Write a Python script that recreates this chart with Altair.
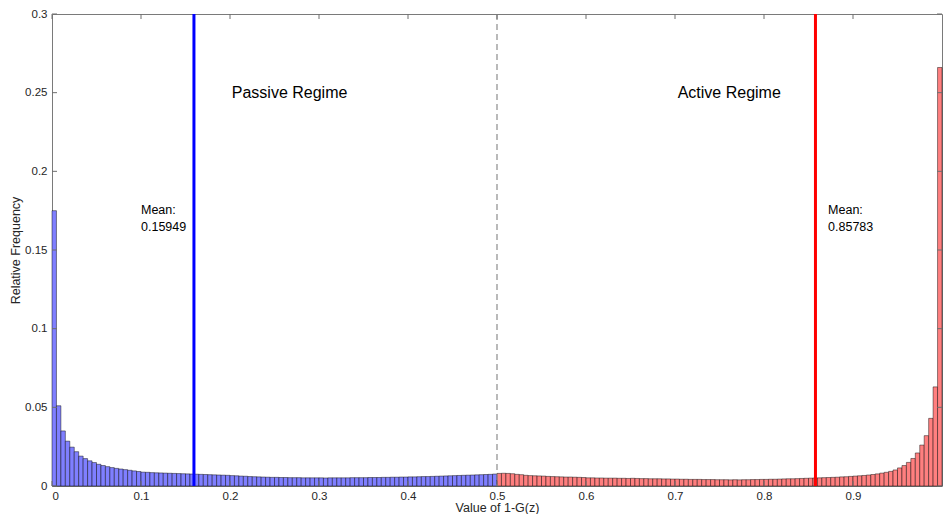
import altair as alt
import pandas as pd

BIN_WIDTH = 0.005

passive_freq = [
    0.175, 0.051, 0.035, 0.0285, 0.0247, 0.0218, 0.019, 0.0174, 0.016, 0.0149,
    0.0138, 0.013, 0.0123, 0.0117, 0.0112, 0.0108, 0.0104, 0.0100, 0.0096, 0.0092,
    0.0088, 0.0087, 0.0085, 0.0084, 0.0083, 0.0082, 0.0081, 0.0080, 0.0079, 0.0078,
    0.0077, 0.0076, 0.0075, 0.0074, 0.0073, 0.0072, 0.0071, 0.0070, 0.0069, 0.0068,
    0.0066, 0.0065, 0.0063, 0.0062, 0.0060, 0.0059, 0.0058, 0.0057, 0.0056, 0.0055,
    0.0055, 0.0054, 0.0054, 0.0053, 0.0053, 0.0053, 0.0052, 0.0052, 0.0052, 0.0052,
    0.0052, 0.0051, 0.0052, 0.0052, 0.0052, 0.0052, 0.0052, 0.0053, 0.0053, 0.0053,
    0.0053, 0.0054, 0.0054, 0.0054, 0.0055, 0.0055, 0.0056, 0.0056, 0.0057, 0.0057,
    0.0058, 0.0058, 0.0059, 0.0060, 0.0060, 0.0061, 0.0062, 0.0063, 0.0064, 0.0065,
    0.0066, 0.0067, 0.0068, 0.0069, 0.0070, 0.0071, 0.0072, 0.0073, 0.0074, 0.0076,
]

active_freq = [
    0.0080, 0.0081, 0.0080, 0.0078, 0.0074, 0.0072, 0.0068, 0.0066, 0.0065, 0.0064,
    0.0063, 0.0061, 0.0060, 0.0059, 0.0058, 0.0057, 0.0057, 0.0056, 0.0055, 0.0054,
    0.0052, 0.0052, 0.0051, 0.0051, 0.0050, 0.0050, 0.0050, 0.0049, 0.0049, 0.0048,
    0.0049, 0.0048, 0.0047, 0.0047, 0.0046, 0.0046, 0.0046, 0.0045, 0.0045, 0.0044,
    0.0044, 0.0043, 0.0043, 0.0042, 0.0042, 0.0042, 0.0041, 0.0041, 0.0041, 0.0040,
    0.0040, 0.0040, 0.0039, 0.0040, 0.0039, 0.0040, 0.0040, 0.0041, 0.0041, 0.0042,
    0.0042, 0.0043, 0.0043, 0.0044, 0.0045, 0.0046, 0.0046, 0.0047, 0.0048, 0.0049,
    0.0050, 0.0051, 0.0052, 0.0053, 0.0054, 0.0055, 0.0056, 0.0058, 0.0059, 0.0061,
    0.0063, 0.0065, 0.0067, 0.0070, 0.0073, 0.0077, 0.0082, 0.0087, 0.0093, 0.0102,
    0.0115, 0.0130, 0.0150, 0.0175, 0.0210, 0.0260, 0.0320, 0.0430, 0.0630, 0.2660,
]

passive_mean = 0.15949
active_mean = 0.85783
threshold = 0.5

x_ticks = [0, 0.1, 0.2, 0.3, 0.4, 0.5, 0.6, 0.7, 0.8, 0.9]
y_ticks = [0, 0.05, 0.1, 0.15, 0.2, 0.25, 0.3]

W, H = 890, 472
FONT = "Liberation Sans"

rows = []
for i, v in enumerate(passive_freq):
    rows.append({"x0": i * BIN_WIDTH, "x1": (i + 1) * BIN_WIDTH, "f": v, "regime": "Passive"})
n = len(passive_freq)
for j, v in enumerate(active_freq):
    i = n + j
    rows.append({"x0": i * BIN_WIDTH, "x1": (i + 1) * BIN_WIDTH, "f": v, "regime": "Active"})
hist = pd.DataFrame(rows)

xs = alt.Scale(domain=[0, 1], nice=False, zero=False)
ys = alt.Scale(domain=[0, 0.3], nice=False)

bars = alt.Chart(hist).mark_rect(
    stroke="#000000", strokeWidth=0.6, strokeOpacity=0.75
).encode(
    x=alt.X("x0:Q", scale=xs,
            axis=alt.Axis(values=x_ticks, format="~g", title="Value of 1-G(z)",
                          labelPadding=4, titlePadding=0)),
    x2="x1:Q",
    y=alt.Y("f:Q", scale=ys,
            axis=alt.Axis(values=y_ticks, format="~g", title="Relative Frequency",
                          labelPadding=5, titlePadding=2)),
    y2=alt.datum(0),
    color=alt.Color("regime:N",
                    scale=alt.Scale(domain=["Passive", "Active"], range=["#7f7fff", "#ff7f7f"]),
                    legend=None),
)

thr_df = pd.DataFrame({"x": [threshold]})
thr = alt.Chart(thr_df).mark_rule(color="#8c8c8c", strokeWidth=1.2, strokeDash=[6, 4]).encode(
    x=alt.X("x:Q", scale=xs)
)

pm_df = pd.DataFrame({"x": [passive_mean]})
am_df = pd.DataFrame({"x": [active_mean]})
pmean = alt.Chart(pm_df).mark_rule(strokeWidth=3, color="#0000ff").encode(
    x=alt.X("x:Q", scale=xs))
amean = alt.Chart(am_df).mark_rule(strokeWidth=3, color="#ff0000").encode(
    x=alt.X("x:Q", scale=xs))

regime_df = pd.DataFrame({"x": [0.202, 0.703], "y": [0.25, 0.25],
                          "t": ["Passive Regime", "Active Regime"]})
regime_txt = alt.Chart(regime_df).mark_text(
    align="left", baseline="middle", font=FONT, fontSize=16, color="#000000"
).encode(x=alt.X("x:Q", scale=xs), y=alt.Y("y:Q", scale=ys), text="t:N")

mean_txt_df = pd.DataFrame({
    "x": [0.1, 0.1, 0.872, 0.872],
    "y": [0.1752, 0.1645, 0.1752, 0.1645],
    "t": ["Mean:", f"{passive_mean}", "Mean:", f"{active_mean}"],
})
mean_txt = alt.Chart(mean_txt_df).mark_text(
    align="left", baseline="middle", font=FONT, fontSize=12.5, color="#000000"
).encode(x=alt.X("x:Q", scale=xs), y=alt.Y("y:Q", scale=ys), text="t:N")

tick_col = "#6e6e6e"
xt_df = pd.DataFrame({"x": x_ticks})
yt_df = pd.DataFrame({"y": y_ticks})
xt_bottom = alt.Chart(xt_df).mark_rule(color=tick_col, strokeWidth=1).encode(
    x=alt.X("x:Q", scale=xs), y=alt.value(H), y2=alt.value(H - 5))
xt_top = alt.Chart(xt_df).mark_rule(color=tick_col, strokeWidth=1).encode(
    x=alt.X("x:Q", scale=xs), y=alt.value(0), y2=alt.value(5))
yt_left = alt.Chart(yt_df).mark_rule(color=tick_col, strokeWidth=1).encode(
    y=alt.Y("y:Q", scale=ys), x=alt.value(0), x2=alt.value(5))
yt_right = alt.Chart(yt_df).mark_rule(color=tick_col, strokeWidth=1).encode(
    y=alt.Y("y:Q", scale=ys), x=alt.value(W), x2=alt.value(W - 5))

chart = alt.layer(
    bars, thr, pmean, amean, regime_txt, mean_txt, xt_bottom, xt_top, yt_left, yt_right
).properties(
    width=W, height=H,
    autosize=alt.AutoSizeParams(type="none"),
    padding={"left": 44, "top": 6, "right": 1, "bottom": 28},
    background="#ffffff",
).configure_view(
    stroke="#7a7a7a", strokeWidth=1
).configure_axis(
    domain=False, grid=False, ticks=False,
    labelFont=FONT, labelFontSize=11.5, labelColor="#262626",
    titleFont=FONT, titleFontSize=12.5, titleColor="#262626", titleFontWeight="normal",
)

chart.save("out.html", embed_options={"renderer": "svg", "actions": False})
